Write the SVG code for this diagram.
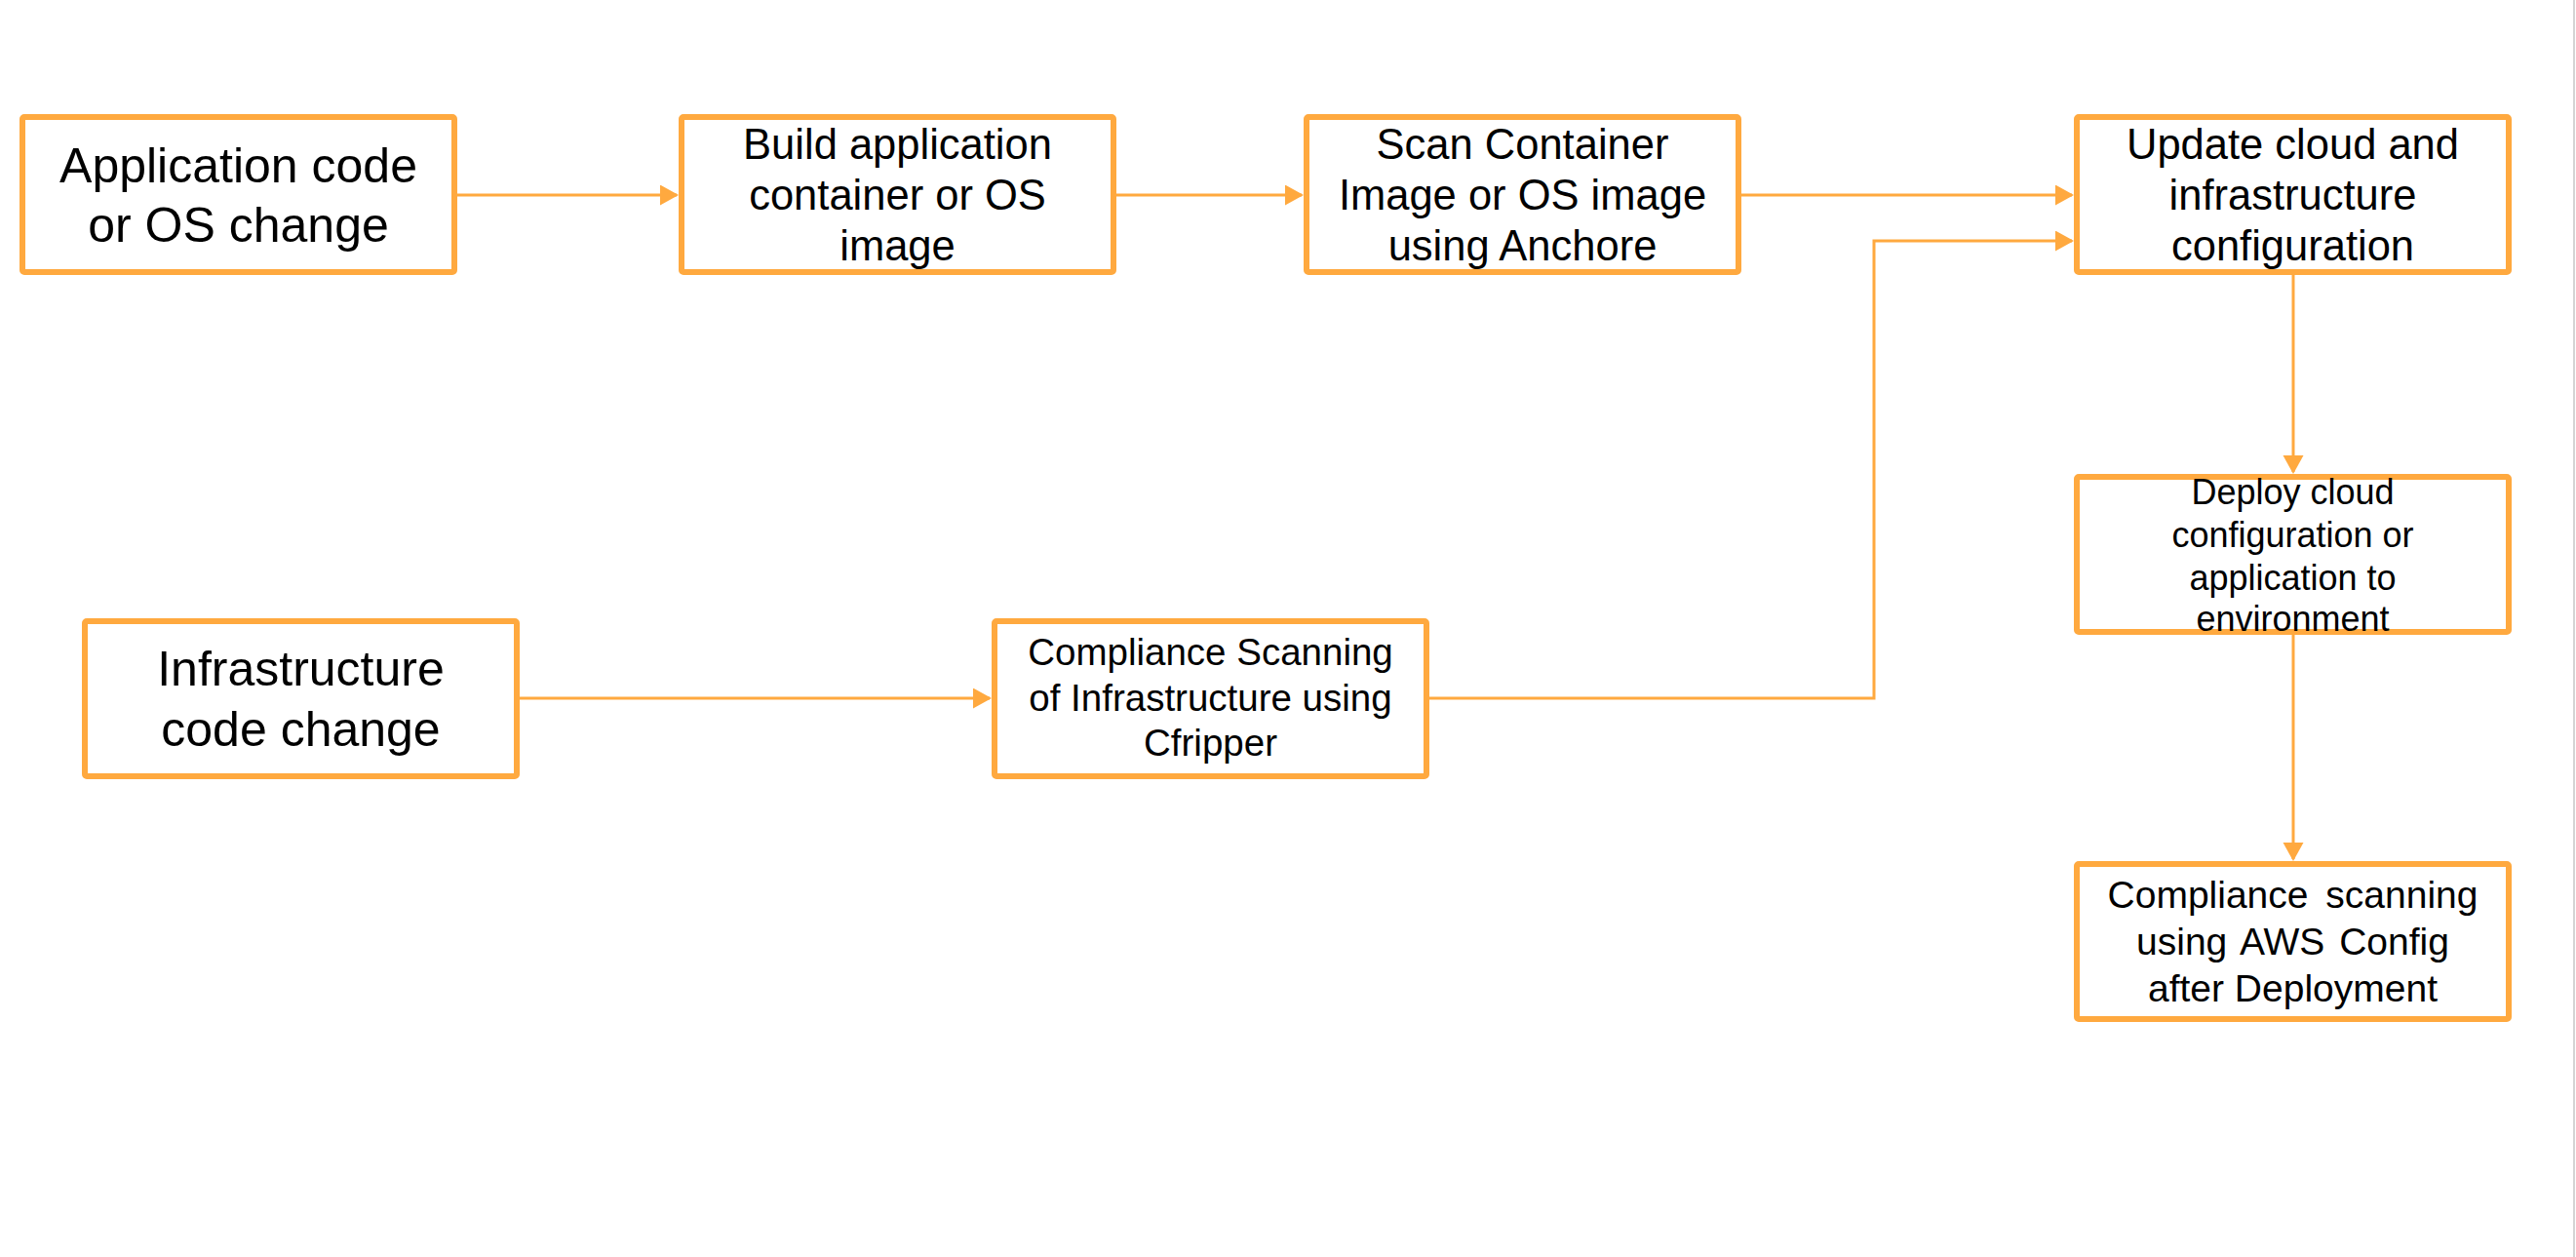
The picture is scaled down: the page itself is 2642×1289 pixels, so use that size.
<svg xmlns="http://www.w3.org/2000/svg" width="2642" height="1289" viewBox="0 0 2642 1289">
<defs>
<style>
.box{fill:#FFFFFF;stroke:#FFA93F;stroke-width:6}
.edge{fill:none;stroke:#FFA93F;stroke-width:3}
.t{font-family:"Liberation Sans",Arial,sans-serif;fill:#000000;text-anchor:middle}
.big{font-size:50px}
.mid{font-size:43.5px}
.sm{font-size:38.5px}
.xs{font-size:36px}
</style>
<marker id="arr" markerUnits="userSpaceOnUse" markerWidth="20" markerHeight="22" refX="17" refY="10.5" orient="auto">
<path d="M0,0 L19,10.5 L0,21 Z" fill="#FFA93F"/>
</marker>
</defs>
<rect width="2642" height="1289" fill="#FFFFFF"/>
<line x1="2640" y1="0" x2="2640" y2="1289" stroke="#D4D4D4" stroke-width="2"/>

<g id="connectors">
<line class="edge" x1="469" y1="200" x2="694" y2="200" marker-end="url(#arr)"/>
<line class="edge" x1="1145" y1="200" x2="1335" y2="200" marker-end="url(#arr)"/>
<line class="edge" x1="1786" y1="200" x2="2125" y2="200" marker-end="url(#arr)"/>
<polyline class="edge" points="1466,716 1922,716 1922,247 2125,247" marker-end="url(#arr)"/>
<line class="edge" x1="2352" y1="282" x2="2352" y2="484" marker-end="url(#arr)"/>
<line class="edge" x1="2352" y1="651" x2="2352" y2="881" marker-end="url(#arr)"/>
<line class="edge" x1="533" y1="716" x2="1015" y2="716" marker-end="url(#arr)"/>
</g>

<g id="node-app-change">
<rect class="box" x="23" y="120" width="443" height="159" rx="2"/>
<text class="t big" x="244.5"><tspan x="244.5" y="187">Application code</tspan><tspan x="244.5" y="248">or OS change</tspan></text>
</g>

<g id="node-build">
<rect class="box" x="699" y="120" width="443" height="159" rx="2"/>
<text class="t mid"><tspan x="920.5" y="163">Build application</tspan><tspan x="920.5" y="215">container or OS</tspan><tspan x="920.5" y="267">image</tspan></text>
</g>

<g id="node-scan-container">
<rect class="box" x="1340" y="120" width="443" height="159" rx="2"/>
<text class="t mid"><tspan x="1561.5" y="163">Scan Container</tspan><tspan x="1561.5" y="215">Image or OS image</tspan><tspan x="1561.5" y="267">using Anchore</tspan></text>
</g>

<g id="node-update-config">
<rect class="box" x="2130" y="120" width="443" height="159" rx="2"/>
<text class="t mid"><tspan x="2351.5" y="163">Update cloud and</tspan><tspan x="2351.5" y="215">infrastructure</tspan><tspan x="2351.5" y="267">configuration</tspan></text>
</g>

<g id="node-deploy">
<rect class="box" x="2130" y="489" width="443" height="159" rx="2"/>
<text class="t xs"><tspan x="2351.5" y="517">Deploy cloud</tspan><tspan x="2351.5" y="561">configuration or</tspan><tspan x="2351.5" y="605">application to</tspan><tspan x="2351.5" y="647">environment</tspan></text>
</g>

<g id="node-aws-config">
<rect class="box" x="2130" y="886" width="443" height="159" rx="2"/>
<text class="t" style="font-size:39px"><tspan x="2351.5" y="931" word-spacing="7">Compliance scanning</tspan><tspan x="2351.5" y="979" word-spacing="4">using AWS Config</tspan><tspan x="2351.5" y="1027">after Deployment</tspan></text>
</g>

<g id="node-infra-change">
<rect class="box" x="87" y="637" width="443" height="159" rx="2"/>
<text class="t big"><tspan x="308.5" y="703">Infrastructure</tspan><tspan x="308.5" y="765">code change</tspan></text>
</g>

<g id="node-cfripper">
<rect class="box" x="1020" y="637" width="443" height="159" rx="2"/>
<text class="t sm"><tspan x="1241.5" y="682">Compliance Scanning</tspan><tspan x="1241.5" y="729">of Infrastructure using</tspan><tspan x="1241.5" y="775">Cfripper</tspan></text>
</g>
</svg>
